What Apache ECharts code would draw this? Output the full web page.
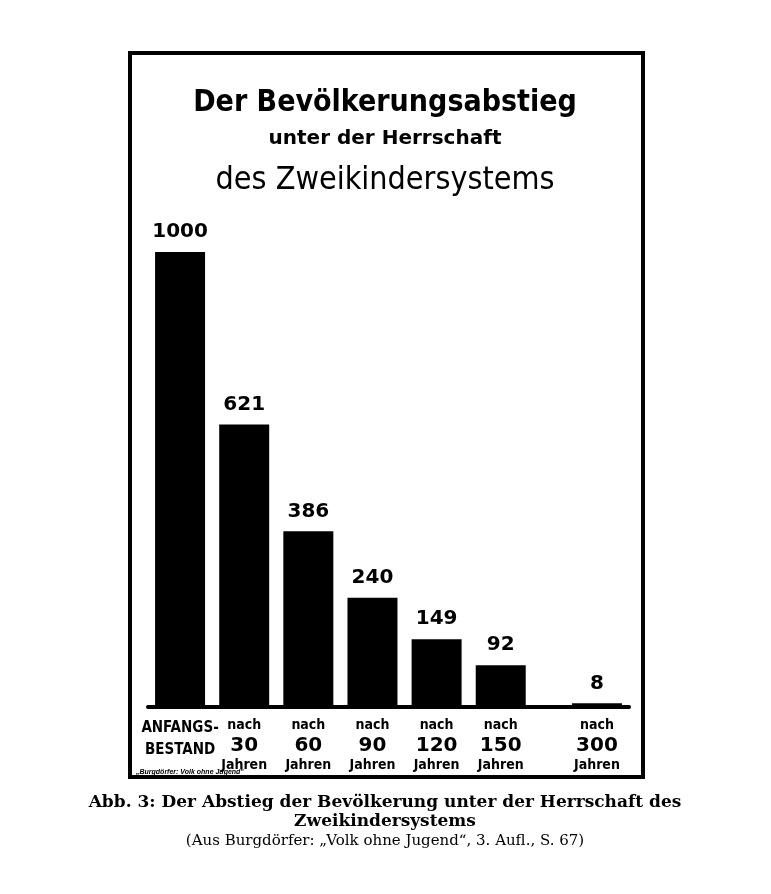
<!DOCTYPE html><html><head><meta charset="utf-8">
<script src="https://cdn.jsdelivr.net/npm/echarts@6/dist/echarts.min.js"></script>
<style>html,body{margin:0;background:#fff}#c{width:771px;height:894px}</style></head><body><div id="c"></div><script>
const positions=[0,1,2,3,4,5,6.5];
const values=[1000,621,386,240,149,92,8];
const topLines=['ANFANGS-','nach','nach','nach','nach','nach','nach'];
const midLines=['BESTAND','30','60','90','120','150','300'];
const botLines=['','Jahren','Jahren','Jahren','Jahren','Jahren','Jahren'];
const chart=echarts.init(document.getElementById('c'));
const F='"DejaVu Sans", sans-serif';
chart.setOption({
 animation:false,
 grid:{left:148,width:481,top:252,bottom:187},
 xAxis:{type:'value',min:-0.5,max:7,interval:0.5,splitLine:{show:false},axisTick:{show:false},
  axisLine:{lineStyle:{color:'#000',width:4}},
  axisLabel:{margin:10,color:'#000',fontFamily:F,interval:0,showMinLabel:true,showMaxLabel:true,
   formatter:v=>{const i=positions.indexOf(v);if(i<0)return '';
    if(i===0)return '{a|'+topLines[0]+'}\n{a|'+midLines[0]+'}';
    return '{t|'+topLines[i]+'}\n{b|'+midLines[i]+'}\n{t|'+botLines[i]+'}';},
   rich:{a:{fontSize:15,fontWeight:'bold',fontFamily:'"DejaVu Sans Condensed",sans-serif',lineHeight:22},
    t:{fontSize:14,fontWeight:'bold',fontFamily:'"DejaVu Sans Condensed",sans-serif',lineHeight:17},b:{fontSize:20,fontWeight:'bold',fontFamily:F,lineHeight:23}}}},
 yAxis:{type:'value',min:0,max:1000,show:false},
 series:[{type:'bar',barWidth:50,data:positions.map((p,i)=>[p,values[i]]),itemStyle:{color:'#000'},
  label:{show:true,position:'top',distance:10,color:'#000',fontSize:20,fontWeight:'bold',fontFamily:F,formatter:p=>p.value[1]}}],
 graphic:[
  {type:'rect',shape:{x:130,y:53,width:513,height:724},style:{fill:'none',stroke:'#000',lineWidth:4}},
  {type:'text',x:385,y:103,style:{text:'Der Bevölkerungsabstieg',font:'bold 30px "DejaVu Sans Condensed",sans-serif',fill:'#000',align:'center',verticalAlign:'middle'}},
  {type:'text',x:385,y:139,style:{text:'unter der Herrschaft',font:'bold 20px "DejaVu Sans",sans-serif',fill:'#000',align:'center',verticalAlign:'middle'}},
  {type:'text',x:385,y:181,style:{text:'des Zweikindersystems',font:'32px "DejaVu Sans Condensed",sans-serif',fill:'#000',align:'center',verticalAlign:'middle'}},
  {type:'text',x:136,y:772,style:{text:'„Burgdörfer: Volk ohne Jugend"',font:'italic bold 7px sans-serif',fill:'#000',verticalAlign:'middle'}},
  {type:'text',x:385,y:803,style:{text:'Abb. 3: Der Abstieg der Bevölkerung unter der Herrschaft des',font:'bold 17px "DejaVu Serif",serif',fill:'#000',align:'center',verticalAlign:'middle'}},
  {type:'text',x:385,y:822,style:{text:'Zweikindersystems',font:'bold 17px "DejaVu Serif",serif',fill:'#000',align:'center',verticalAlign:'middle'}},
  {type:'text',x:385,y:841,style:{text:'(Aus Burgdörfer: „Volk ohne Jugend“, 3. Aufl., S. 67)',font:'15px "DejaVu Serif",serif',fill:'#000',align:'center',verticalAlign:'middle'}}
 ]
});
</script></body></html>
